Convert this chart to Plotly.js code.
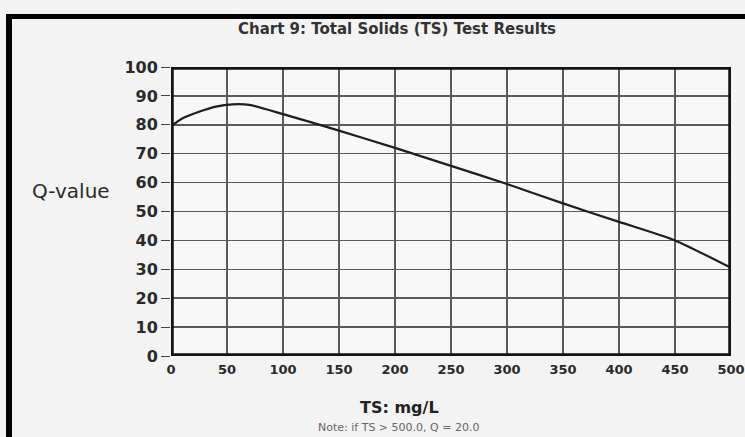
<!DOCTYPE html>
<html>
<head>
<meta charset="utf-8">
<script src="https://cdn.plot.ly/plotly-3.0.1.min.js"></script>
<style>
  html, body { margin: 0; padding: 0; background: #f3f3f3; }
  #wrap { position: relative; width: 745px; height: 437px; overflow: hidden; }
  #chart { width: 745px; height: 437px; }
  .bar { position: absolute; background: #000; }
</style>
</head>
<body>
<div id="wrap">
  <div id="chart"></div>
  <div class="bar" style="left:6px; top:14px; width:739px; height:5px;"></div>
  <div class="bar" style="left:6px; top:14px; width:6px; height:423px;"></div>
</div>
<script>
// Data
const tsValues = [0, 10, 25, 40, 55, 70, 100, 150, 200, 250, 300, 350, 400, 450, 500];
const qValues  = [79.5, 82.2, 84.5, 86.3, 87.1, 86.9, 83.7, 78.0, 72.0, 65.8, 59.5, 52.8, 46.4, 40.0, 30.5];
const xTicks = [0, 50, 100, 150, 200, 250, 300, 350, 400, 450, 500];
const yTicks = [0, 10, 20, 30, 40, 50, 60, 70, 80, 90, 100];

const chartTitle = "Chart 9: Total Solids (TS) Test Results";
const xLabel = "TS: mg/L";
const yLabel = "Q-value";
const noteText = "Note: if TS > 500.0, Q = 20.0";

const trace = {
  x: tsValues,
  y: qValues,
  type: 'scatter',
  mode: 'lines',
  line: { color: '#1e1e1e', width: 2.2, shape: 'spline', smoothing: 0.6 },
  hoverinfo: 'x+y'
};

const layout = {
  width: 745,
  height: 437,
  margin: { l: 171, r: 14, t: 67, b: 81 },
  paper_bgcolor: '#f3f3f3',
  plot_bgcolor: '#f8f8f8',
  showlegend: false,
  title: {
    text: chartTitle,
    x: 397 / 745, xref: 'container', xanchor: 'center',
    y: 1 - 29 / 437, yref: 'container', yanchor: 'middle',
    font: { family: 'DejaVu Sans', size: 15, color: '#333', weight: 'bold' }
  },
  xaxis: {
    range: [0, 500],
    tickvals: xTicks,
    ticktext: xTicks.map(String),
    showgrid: true,
    gridcolor: '#5a5a5a',
    gridwidth: 1.5,
    zeroline: false,
    showline: false,
    ticks: '',
    ticklabelstandoff: 4,
    tickfont: { family: 'DejaVu Sans', size: 13, color: '#2a2a2a', weight: 'bold' },
    fixedrange: true
  },
  yaxis: {
    range: [0, 100],
    tickvals: yTicks,
    ticktext: yTicks.map(String),
    showgrid: true,
    gridcolor: '#5a5a5a',
    gridwidth: 1.5,
    zeroline: false,
    showline: false,
    ticks: 'outside',
    ticklen: 9,
    tickwidth: 1,
    tickcolor: '#444',
    tickfont: { family: 'DejaVu Sans', size: 16, color: '#2a2a2a', weight: 'bold' },
    fixedrange: true
  },
  shapes: [
    {
      type: 'rect', xref: 'x', yref: 'y',
      x0: 0, x1: 500, y0: 0, y1: 100,
      line: { color: '#141414', width: 5.5 },
      fillcolor: 'rgba(0,0,0,0)'
    }
  ],
  annotations: [
    {
      text: yLabel, xref: 'paper', yref: 'paper',
      x: (30 - 171) / 560, y: (356 - 191) / 289,
      xanchor: 'left', yanchor: 'middle', showarrow: false,
      font: { family: 'DejaVu Sans', size: 20, color: '#2a2a2a' }
    },
    {
      text: '<b>' + xLabel + '</b>', xref: 'paper', yref: 'paper',
      x: (399 - 171) / 560, y: (356 - 407) / 289,
      xanchor: 'center', yanchor: 'middle', showarrow: false,
      font: { family: 'DejaVu Sans', size: 16, color: '#222' }
    },
    {
      text: noteText, xref: 'paper', yref: 'paper',
      x: (398 - 171) / 560, y: (356 - 427) / 289,
      xanchor: 'center', yanchor: 'middle', showarrow: false,
      font: { family: 'DejaVu Sans', size: 11, color: '#666' }
    }
  ]
};

Plotly.newPlot('chart', [trace], layout, { displayModeBar: false, staticPlot: true });
</script>
</body>
</html>
